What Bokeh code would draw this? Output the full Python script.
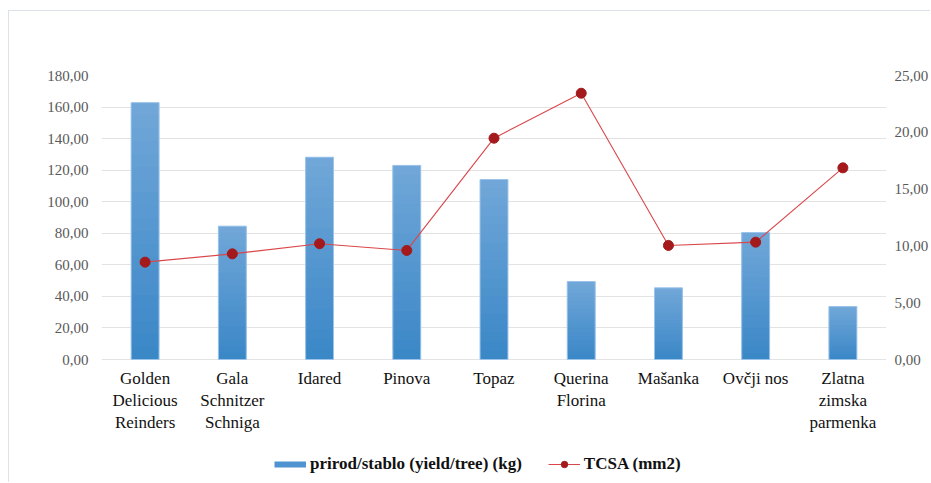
from bokeh.plotting import figure
from bokeh.models import (Range1d, LinearAxis, FixedTicker, CustomJSTickFormatter,
                          Legend, LegendItem, ColumnDataSource, FactorRange)
from bokeh.core.properties import value
from bokeh.embed import file_html
from bokeh.resources import INLINE

# ---- data ----
categories = ["Golden Delicious Reinders", "Gala Schnitzer Schniga", "Idared", "Pinova",
              "Topaz", "Querina Florina", "Mašanka", "Ovčji nos", "Zlatna zimska parmenka"]
category_labels = ["Golden\nDelicious\nReinders", "Gala\nSchnitzer\nSchniga", "Idared", "Pinova",
                   "Topaz", "Querina\nFlorina", "Mašanka", "Ovčji nos", "Zlatna\nzimska\nparmenka"]
yield_kg = [162.8, 84.5, 128.2, 123.0, 114.1, 49.4, 45.4, 80.5, 33.6]
tcsa_mm2 = [8.57, 9.30, 10.19, 9.60, 19.48, 23.44, 10.04, 10.33, 16.87]
left_ticks = [0, 20, 40, 60, 80, 100, 120, 140, 160, 180]
right_ticks = [0, 5, 10, 15, 20, 25]
series_names = ["prirod/stablo (yield/tree) (kg)", "TCSA (mm2)"]

SERIF = "Liberation Serif"

# layout: frame runs from the top tick (180) down to the bottom of the canvas,
# leaving room below zero for category labels and legend
LEFT_MAX = 180.0
RIGHT_MAX = 25.0
BELOW_FRAC = 124.0 / 284.0  # portion of the value span kept below zero
y_lo_left = -LEFT_MAX * BELOW_FRAC
y_lo_right = -RIGHT_MAX * BELOW_FRAC

p = figure(width=922, height=472, x_range=FactorRange(*categories),
           y_range=Range1d(y_lo_left, LEFT_MAX), output_backend="svg", toolbar_location=None,
           x_axis_location=None,
           min_border_left=92, min_border_right=44, min_border_top=64, min_border_bottom=0)
p.extra_y_ranges = {"tcsa": Range1d(y_lo_right, RIGHT_MAX)}
p.margin = (10, 0, 0, 8)
p.styles = {"border-left": "1px solid #dde2ea", "border-top": "1px solid #dde2ea"}
p.outline_line_color = None
p.background_fill_color = "white"
p.border_fill_color = "white"

# gradient bars (slices computed from each value, overlapping to avoid seams)
k = 20
top_c = (0x71, 0xa7, 0xd8)
bot_c = (0x3a, 0x87, 0xc7)
xs, bottoms, tops, cols = [], [], [], []
for cat, v in zip(categories, yield_kg):
    for j in range(k):
        t = (j + 0.5) / k
        c = tuple(int(round(b + (tt - b) * t)) for b, tt in zip(bot_c, top_c))
        xs.append(cat)
        bottoms.append(v * j / k)
        tops.append(v * min(j + 2, k) / k)
        cols.append("#%02x%02x%02x" % c)
src = ColumnDataSource(dict(x=xs, bottom=bottoms, top=tops, color=cols))
p.vbar(x="x", bottom="bottom", top="top", width=0.32, source=src,
       fill_color="color", line_color=None)
p.vbar(x=categories, top=yield_kg, width=0.32, fill_alpha=0, line_color="#9cc4ea", line_width=1)

# legend proxy for the bar series (draws nothing in the plot)
proxy = p.line(x=categories[:1], y=[float("nan")], line_color="#4f93d1", line_width=6)

line_r = p.line(x=categories, y=tcsa_mm2, y_range_name="tcsa", line_color="#d9474a", line_width=1.1)
sc_r = p.scatter(x=categories, y=tcsa_mm2, y_range_name="tcsa", size=10,
                 fill_color="#a3191c", line_color="#a3191c")

# category labels (multi-line) under the zero line
p.text(x=categories, y=[0] * len(categories), text=category_labels, y_offset=9,
       text_align="center", text_baseline="top", text_font=value(SERIF),
       text_font_size="17px", text_color="#111111", text_line_height=1.18)

# axes
fmt = CustomJSTickFormatter(code="return tick.toFixed(2).replace('.', ',');")
yl = p.yaxis[0]
yl.ticker = FixedTicker(ticks=left_ticks)
yl.formatter = fmt

yr = LinearAxis(y_range_name="tcsa", ticker=FixedTicker(ticks=right_ticks), formatter=fmt)
p.add_layout(yr, "right")

for ax in [yl, yr]:
    ax.axis_line_color = None
    ax.major_tick_line_color = None
    ax.minor_tick_line_color = None
    ax.major_label_text_font = SERIF
    ax.major_label_text_font_size = "15px"
    ax.major_label_text_color = "#595959"
yl.major_label_standoff = 7
yr.major_label_standoff = 2

p.xgrid.grid_line_color = None
p.ygrid.grid_line_color = "#e3e3e3"
p.ygrid.grid_line_width = 1
p.ygrid.ticker = FixedTicker(ticks=left_ticks)

legend = Legend(items=[LegendItem(label=series_names[0], renderers=[proxy]),
                       LegendItem(label=series_names[1], renderers=[line_r, sc_r])],
                orientation="horizontal", location=(173, 9),
                glyph_width=32, glyph_height=16, label_standoff=4, spacing=26,
                padding=0, margin=0, border_line_color=None, background_fill_alpha=0,
                label_text_font=SERIF, label_text_font_style="bold",
                label_text_font_size="17px", label_text_color="#111111")
p.add_layout(legend)

open("out.html", "w").write(file_html(p, INLINE))
